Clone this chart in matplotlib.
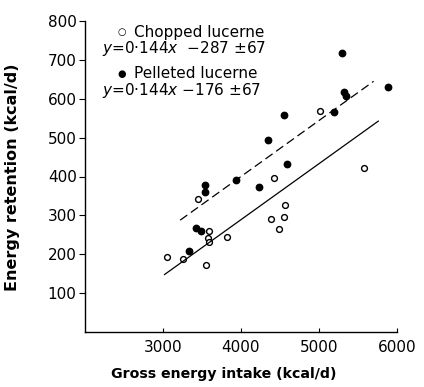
import matplotlib
matplotlib.use("Agg")
import matplotlib.pyplot as plt
import numpy as np

# Chopped lucerne (open circles)
chopped_x = [3051, 3256, 3449, 3590, 3577, 3590, 3551, 3821, 4385, 4564, 4551, 4487, 4423, 5013, 5577]
chopped_y = [192, 187, 341, 259, 241, 231, 172, 244, 290, 326, 297, 264, 395, 569, 423]

# Pelleted lucerne (filled circles)
pellet_x = [3333, 3423, 3487, 3538, 3538, 3936, 4231, 4346, 4551, 4590, 5192, 5295, 5320, 5346, 5885]
pellet_y = [208, 267, 259, 377, 359, 392, 372, 495, 559, 431, 567, 718, 618, 608, 631]

# Regression lines
slope = 0.144
chopped_icpt = -287
pellet_icpt = -176
chopped_range = [3020, 5760]
pellet_range = [3220, 5700]

xticks = [3000, 4000, 5000, 6000]
yticks = [100, 200, 300, 400, 500, 600, 700, 800]

fig = plt.figure(figsize=(4.24, 3.87), dpi=100)
ax = fig.add_axes([85/424, 1 - 332/387, (397-85)/424, (332-21)/387])

ax.plot(chopped_x, chopped_y, 'o', mfc='white', mec='black', mew=1.0, ms=4.2, ls='none')
ax.plot(pellet_x, pellet_y, 'o', mfc='black', mec='black', ms=4.6, ls='none')

cx = np.array(chopped_range)
ax.plot(cx, slope*cx + chopped_icpt, color='black', lw=0.9)
px = np.array(pellet_range)
ax.plot(px, slope*px + pellet_icpt, color='black', lw=0.9, dashes=(7, 3.5))

ax.set_xlim(2000, 6000)
ax.set_ylim(0, 800)
ax.set_xticks(xticks)
ax.set_yticks(yticks)
ax.tick_params(axis='x', direction='in', length=3, labelsize=11, pad=6, width=0.8)
ax.tick_params(axis='y', direction='out', length=4, labelsize=11, pad=2, width=0.8)
for s in ['top', 'right']:
    ax.spines[s].set_visible(False)
for s in ['left', 'bottom']:
    ax.spines[s].set_linewidth(1.0)

fig.text(224/424, 1 - 374/387, 'Gross energy intake (kcal/d)', fontsize=10.2,
         fontweight='bold', ha='center', va='center')
fig.text(13/424, 1 - 177/387, 'Energy retention (kcal/d)', fontsize=11.5,
         fontweight='bold', ha='center', va='center', rotation=90)

# Legend-like annotation
fs = 11
fig.text(122/424, 1 - 32/387, '\u25CB', fontsize=7, va='center', ha='center')
fig.text(134/424, 1 - 32/387, 'Chopped lucerne', fontsize=fs, va='center', ha='left')
fig.text(102/424, 1 - 49/387, '$y$=0\u00b7144$x$  \u2212287 \u00b167',
         fontsize=fs, va='center', ha='left')
fig.text(122/424, 1 - 74/387, '\u25CF', fontsize=7, va='center', ha='center')
fig.text(134/424, 1 - 74/387, 'Pelleted lucerne', fontsize=fs, va='center', ha='left')
fig.text(102/424, 1 - 91/387, '$y$=0\u00b7144$x$ \u2212176 \u00b167',
         fontsize=fs, va='center', ha='left')

fig.savefig('out.png', dpi=100)
